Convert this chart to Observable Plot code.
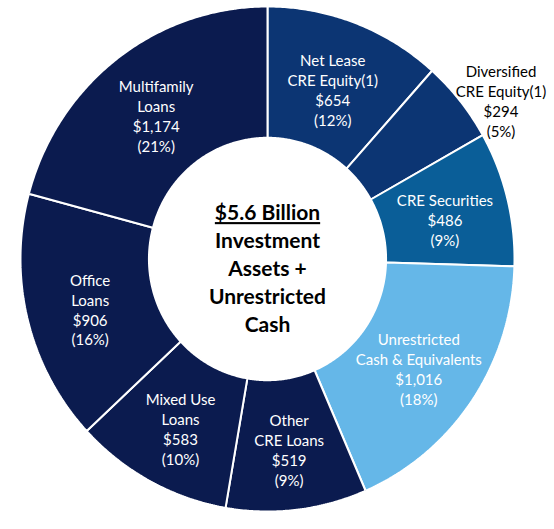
<!DOCTYPE html>
<html>
<head>
<meta charset="utf-8">
<script src="https://cdn.jsdelivr.net/npm/d3@7"></script>
<script src="https://cdn.jsdelivr.net/npm/@observablehq/plot@0.6"></script>
<style>
  html, body { margin: 0; padding: 0; background: #fff; }
  #chart { width: 554px; height: 529px; }
</style>
</head>
<body>
<div id="chart"></div>
<script>
// ---- data ----
const categories = [
  "Net Lease\nCRE Equity(1)",
  "Diversified\nCRE Equity(1)",
  "CRE Securities",
  "Unrestricted\nCash & Equivalents",
  "Other\nCRE Loans",
  "Mixed Use\nLoans",
  "Office\nLoans",
  "Multifamily\nLoans"
];
const values = [654, 294, 486, 1016, 519, 583, 906, 1174];
const colors = ["#0c3573", "#0c3573", "#0a5e98", "#65b7e8", "#0b1b4f", "#0b1b4f", "#0b1b4f", "#0b1b4f"];
const centerTitle = "$5.6 Billion";
const centerLines = ["Investment", "Assets +", "Unrestricted", "Cash"];

// ---- geometry from data ----
const total = d3.sum(values);
const innerR = 0.48, outerR = 1.0, labelR = 0.74;
const slices = [];
let acc = 0;
values.forEach((v, i) => {
  const a0 = acc / total * 2 * Math.PI;
  acc += v;
  const a1 = acc / total * 2 * Math.PI;
  slices.push({i, name: categories[i], value: v, share: v / total, a0, a1, color: colors[i]});
});

const polyPts = [];
for (const s of slices) {
  const n = Math.max(8, Math.ceil((s.a1 - s.a0) / (Math.PI / 360)));
  for (let k = 0; k <= n; k++) {
    const a = s.a0 + (s.a1 - s.a0) * k / n;
    polyPts.push({id: s.i, color: s.color, x: outerR * Math.sin(a), y: outerR * Math.cos(a)});
  }
  for (let k = n; k >= 0; k--) {
    const a = s.a0 + (s.a1 - s.a0) * k / n;
    polyPts.push({id: s.i, color: s.color, x: innerR * Math.sin(a), y: innerR * Math.cos(a)});
  }
  const a = s.a0;
  polyPts.push({id: s.i, color: s.color, x: outerR * Math.sin(a), y: outerR * Math.cos(a)});
}

const fmt = d3.format(",");
const labels = slices.map(s => {
  const am = (s.a0 + s.a1) / 2;
  const outside = s.share < 0.07;
  const r = outside ? outerR : labelR;
  return {
    x: r * Math.sin(am), y: r * Math.cos(am),
    text: `${s.name}\n$${fmt(s.value)}\n(${Math.round(s.share * 100)}%)`,
    outside
  };
});

const chart = Plot.plot({
  width: 554,
  height: 529,
  marginLeft: 20,
  marginRight: 40,
  marginTop: 6,
  marginBottom: 18,
  x: {domain: [-1, 1], axis: null},
  y: {domain: [-1, 1], axis: null},
  style: {background: "#fff"},
  marks: [
    Plot.line(polyPts, {
      x: "x", y: "y", z: "id",
      fill: "color",
      stroke: "#fff",
      strokeWidth: 2,
      strokeLinejoin: "miter",
      strokeLinecap: "butt"
    }),
    Plot.text(labels.filter(d => !d.outside), {
      x: "x", y: "y", text: "text",
      fill: "#fff",
      fontSize: 15,
      fontFamily: "Lato, 'Open Sans', sans-serif",
      lineHeight: 1.33,
      lineAnchor: "middle",
      dy: 5
    }),
    Plot.text(labels.filter(d => d.outside), {
      x: "x", y: "y", text: "text",
      fill: "#000",
      fontSize: 15,
      fontFamily: "Lato, 'Open Sans', sans-serif",
      lineHeight: 1.33,
      lineAnchor: "middle",
      dx: 41
    }),
    Plot.text([[centerTitle, ...centerLines].join("\n")], {
      x: () => 0, y: () => 0, text: d => d,
      fill: "#000",
      fontSize: 21,
      fontWeight: "bold",
      fontFamily: "Lato, 'Open Sans', sans-serif",
      lineHeight: 1.33,
      lineAnchor: "middle",
      dy: 8
    })
  ]
});

// underline the headline of the center text
d3.select(chart).selectAll("tspan").filter(function() { return this.textContent === centerTitle; })
  .style("text-decoration", "underline");

document.getElementById("chart").appendChild(chart);
</script>
</body>
</html>
